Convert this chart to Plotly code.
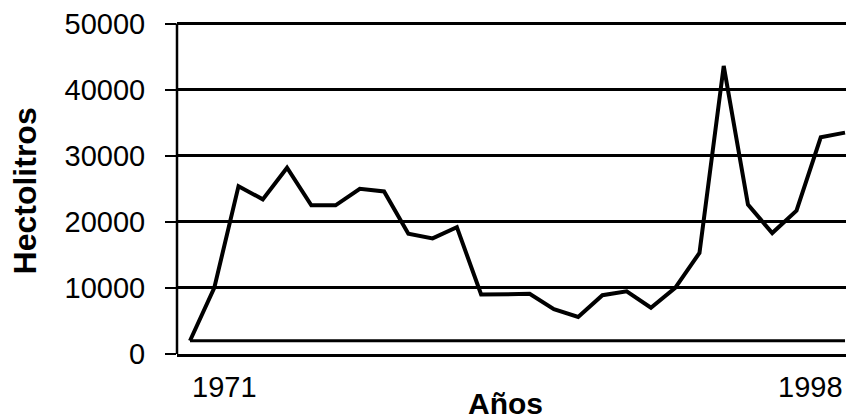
import plotly.graph_objects as go

years = list(range(1971, 1999))
hectolitros = [2000, 10000, 25400, 23400, 28200, 22500, 22500, 25000, 24600, 18200,
               17500, 19200, 9000, 9000, 9100, 6800, 5600, 8900, 9500, 7000,
               10000, 15300, 43600, 22600, 18300, 21700, 32800, 33500]
base_years = [1971, 1998]
base_values = [2000, 2000]

y_ticks = [0, 10000, 20000, 30000, 40000, 50000]
x_tick_labels = ["1971", "1998"]
x_tick_pos = [1971, 1998]

FONT = "Liberation Sans, Arial, sans-serif"

fig = go.Figure()
fig.add_trace(go.Scatter(x=base_years, y=base_values, mode="lines",
                         line=dict(color="black", width=3), showlegend=False,
                         hoverinfo="skip"))
fig.add_trace(go.Scatter(x=years, y=hectolitros, mode="lines",
                         line=dict(color="black", width=4), showlegend=False))

# page body has an 8px default margin, so the figure is 8px smaller
fig.update_layout(
    width=846, height=412,
    margin=dict(l=169, r=0, t=7.4, b=66),
    paper_bgcolor="white", plot_bgcolor="white",
    font=dict(family=FONT, color="black", size=29),
    xaxis=dict(range=[1970.464, 1998.37], showgrid=False, zeroline=False,
               showline=True, linecolor="black", linewidth=2.5,
               showticklabels=False, ticks=""),
    yaxis=dict(range=[0, 51000], tickvals=y_ticks, ticktext=[str(v) for v in y_ticks],
               showgrid=True, gridcolor="black", gridwidth=2.5, zeroline=False,
               showline=False,
               ticks="outside", ticklen=11, tickwidth=2, tickcolor="black",
               ticklabelstandoff=14, ticklabeloverflow="allow",
               tickfont=dict(family=FONT, size=29, color="black")),
)

# vertical axis line spanning only the labelled range
fig.add_shape(type="line", xref="paper", x0=0, x1=0, yref="y",
              y0=y_ticks[0], y1=y_ticks[-1], line=dict(color="black", width=2.5))

for lbl, pos, anc in zip(x_tick_labels, x_tick_pos, ["left", "right"]):
    fig.add_annotation(text=lbl, x=pos, xref="x", y=-0.0975, yref="paper",
                       xanchor=anc, yanchor="middle", showarrow=False,
                       font=dict(family=FONT, size=29, color="black"))

fig.add_annotation(text="<b>Años</b>", x=0.4845, xref="paper", y=-0.1477, yref="paper",
                   xanchor="center", yanchor="middle", showarrow=False,
                   font=dict(family=FONT, size=30, color="black"))
fig.add_annotation(text="<b>Hectolitros</b>", x=-0.225, xref="paper", y=0.4843, yref="paper",
                   xanchor="center", yanchor="middle", textangle=-90, showarrow=False,
                   font=dict(family=FONT, size=32, color="black"))

fig.write_html("out.html")
